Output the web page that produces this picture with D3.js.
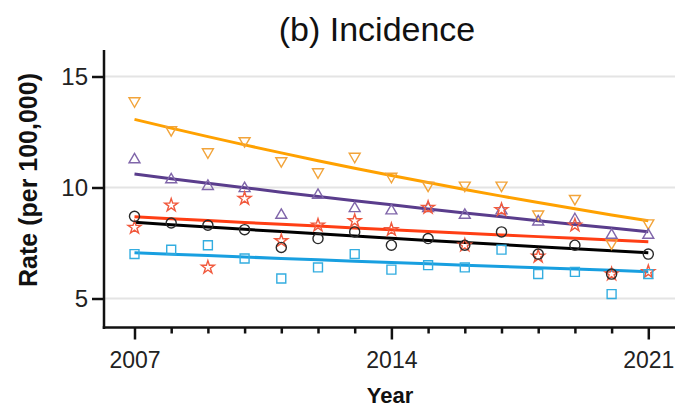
<!DOCTYPE html>
<html>
  <head>
    <meta charset="utf-8" />
    <title>(b) Incidence</title>
    <script src="https://d3js.org/d3.v7.min.js"></script>
    <style>
      body {
        margin: 0;
        background: #ffffff;
      }
      text {
        font-family: "Liberation Sans", Arial, sans-serif;
        fill: #222;
      }
    </style>
  </head>
  <body>
    <div id="chart"></div>
    <script>
      // years on the x axis
      var years = [2007, 2008, 2009, 2010, 2011, 2012, 2013, 2014, 2015, 2016, 2017, 2018, 2019, 2020, 2021];
      var xTickLabels = [2007, 2014, 2021];
      var yTickLabels = [5, 10, 15];

      // observed rates (per 100,000), one array per series
      var orangeRates = [13.9, 12.6, 11.6, 12.1, 11.2, 10.7, 11.4, 10.5, 10.1, 10.1, 10.1, 8.8, 9.5, 7.5, 8.4];
      var purpleRates = [11.3, 10.4, 10.1, 10.0, 8.8, 9.7, 9.1, 9.0, 9.1, 8.8, 9.0, 8.5, 8.6, 7.9, 7.9];
      var redRates = [8.2, 9.2, 6.4, 9.5, 7.6, 8.3, 8.5, 8.1, 9.1, 7.4, 9.0, 6.9, 8.3, 6.1, 6.2];
      var blackRates = [8.7, 8.4, 8.3, 8.1, 7.3, 7.7, 8.0, 7.4, 7.7, 7.4, 8.0, 7.0, 7.4, 6.1, 7.0];
      var blueRates = [7.0, 7.2, 7.4, 6.8, 5.9, 6.4, 7.0, 6.3, 6.5, 6.4, 7.2, 6.1, 6.2, 5.2, 6.1];

      // fitted trend (log-linear): value in 2007 and in 2021
      var fitStart = [13.07, 10.61, 8.68, 8.43, 7.06];
      var fitEnd = [8.5, 8.01, 7.56, 7.06, 6.21];

      var series = [
        { values: orangeRates, marker: "down", markColor: "#f2a43a", lineColor: "#ffa100" },
        { values: purpleRates, marker: "up", markColor: "#8066aa", lineColor: "#5a3d8c" },
        { values: redRates, marker: "star", markColor: "#f15a3e", lineColor: "#ff3e14" },
        { values: blackRates, marker: "circle", markColor: "#2a2a2a", lineColor: "#000000" },
        { values: blueRates, marker: "square", markColor: "#33ade0", lineColor: "#189fe0" }
      ];

      var width = 675;
      var height = 408;

      var svg = d3
        .select("#chart")
        .append("svg")
        .attr("width", width)
        .attr("height", height);

      var x = d3.scaleLinear().domain([2007, 2021]).range([134.5, 648.3]);
      var y = d3.scaleLinear().domain([5, 15]).range([298.5, 76.5]);

      var axisX = 104;
      var axisY = 327.5;

      // title
      svg
        .append("text")
        .attr("x", 377)
        .attr("y", 41)
        .attr("text-anchor", "middle")
        .style("font-size", "34px")
        .style("fill", "#111")
        .text("(b) Incidence");

      // gridlines
      svg
        .append("g")
        .selectAll("line")
        .data(yTickLabels)
        .enter()
        .append("line")
        .attr("x1", axisX)
        .attr("x2", width)
        .attr("y1", function (d) { return y(d); })
        .attr("y2", function (d) { return y(d); })
        .attr("stroke", "#e4e4e4")
        .attr("stroke-width", 2);

      // y axis
      var yAxis = d3
        .axisLeft(y)
        .tickValues(yTickLabels)
        .tickSize(12)
        .tickPadding(4);
      var gy = svg
        .append("g")
        .attr("transform", "translate(" + axisX + ",0)")
        .call(yAxis);
      gy.select(".domain").remove();
      gy.selectAll(".tick line").attr("stroke", "#111").attr("stroke-width", 2.5);
      gy.selectAll(".tick text")
        .style("font-size", "24px")
        .style("font-family", "'Liberation Sans', Arial, sans-serif")
        .attr("fill", "#222");
      svg
        .append("line")
        .attr("x1", axisX)
        .attr("x2", axisX)
        .attr("y1", 50)
        .attr("y2", axisY + 1.5)
        .attr("stroke", "#111")
        .attr("stroke-width", 2.5);

      // x axis
      var xAxis = d3
        .axisBottom(x)
        .tickValues(years)
        .tickSize(6)
        .tickFormat(function (d) {
          return xTickLabels.indexOf(d) >= 0 ? d : "";
        });
      var gx = svg
        .append("g")
        .attr("transform", "translate(0," + axisY + ")")
        .call(xAxis);
      gx.select(".domain").remove();
      gx.selectAll(".tick line")
        .attr("stroke", "#111")
        .attr("stroke-width", 2.5)
        .attr("y2", function (d) {
          return xTickLabels.indexOf(d) >= 0 ? 12 : 6;
        });
      gx.selectAll(".tick text")
        .attr("y", 40.5)
        .attr("dy", 0)
        .style("font-size", "23px")
        .style("font-family", "'Liberation Sans', Arial, sans-serif")
        .attr("fill", "#222");
      svg
        .append("line")
        .attr("x1", axisX - 1.25)
        .attr("x2", width)
        .attr("y1", axisY)
        .attr("y2", axisY)
        .attr("stroke", "#111")
        .attr("stroke-width", 2.5);

      // axis titles
      svg
        .append("text")
        .attr("x", 390)
        .attr("y", 403)
        .attr("text-anchor", "middle")
        .style("font-size", "22px")
        .style("font-weight", "bold")
        .style("fill", "#111")
        .text("Year");

      svg
        .append("text")
        .attr("transform", "translate(37,180) rotate(-90)")
        .attr("text-anchor", "middle")
        .style("font-size", "25px")
        .style("font-weight", "bold")
        .style("fill", "#111")
        .text("Rate (per 100,000)");

      // trend lines
      var line = d3
        .line()
        .x(function (d) { return x(d[0]); })
        .y(function (d) { return y(d[1]); });

      series.forEach(function (s, i) {
        var pts = years.map(function (yr) {
          var t = (yr - 2007) / 14;
          return [yr, fitStart[i] * Math.pow(fitEnd[i] / fitStart[i], t)];
        });
        svg
          .append("path")
          .datum(pts)
          .attr("d", line)
          .attr("fill", "none")
          .attr("stroke", s.lineColor)
          .attr("stroke-width", 3);
      });

      // markers
      var symbolFor = {
        down: d3.symbol().type(d3.symbolTriangle).size(52),
        up: d3.symbol().type(d3.symbolTriangle).size(52),
        star: d3.symbol().type(d3.symbolStar).size(52),
        circle: d3.symbol().type(d3.symbolCircle).size(80),
        square: d3.symbol().type(d3.symbolSquare).size(80)
      };

      series.forEach(function (s) {
        svg
          .append("g")
          .selectAll("path")
          .data(s.values)
          .enter()
          .append("path")
          .attr("d", symbolFor[s.marker])
          .attr("transform", function (d, j) {
            var t = "translate(" + x(years[j]) + "," + y(d) + ")";
            if (s.marker === "down") t += " rotate(180)";
            if (s.marker === "up") t += " translate(0,1)";
            return t;
          })
          .attr("fill", "none")
          .attr("stroke", s.markColor)
          .attr("stroke-width", 1.4);
      });
    </script>
  </body>
</html>
